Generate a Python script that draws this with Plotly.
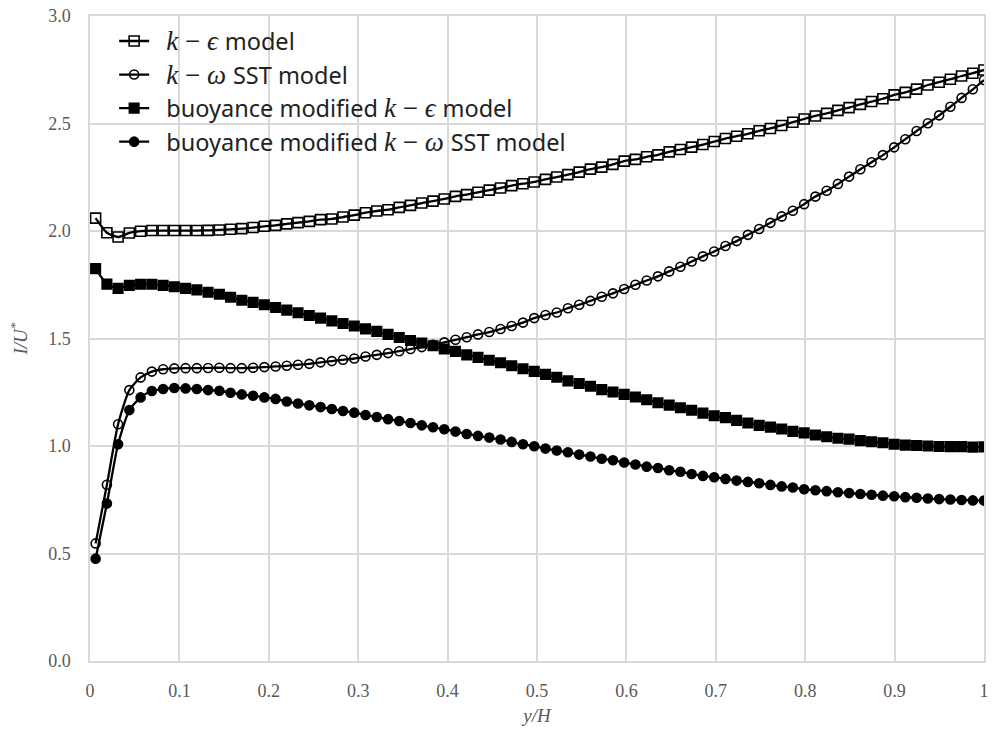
import plotly.graph_objects as go

# sample positions y/H
x_vals = [0.0063, 0.0189, 0.0314, 0.0440, 0.0566, 0.0692, 0.0818, 0.0943, 0.1069, 0.1195,
          0.1321, 0.1447, 0.1572, 0.1698, 0.1824, 0.1950, 0.2076, 0.2201, 0.2327, 0.2453,
          0.2579, 0.2705, 0.2830, 0.2956, 0.3082, 0.3208, 0.3334, 0.3459, 0.3585, 0.3711,
          0.3837, 0.3963, 0.4088, 0.4214, 0.4340, 0.4466, 0.4592, 0.4717, 0.4843, 0.4969,
          0.5095, 0.5221, 0.5346, 0.5472, 0.5598, 0.5724, 0.5850, 0.5975, 0.6101, 0.6227,
          0.6353, 0.6479, 0.6604, 0.6730, 0.6856, 0.6982, 0.7108, 0.7233, 0.7359, 0.7485,
          0.7611, 0.7737, 0.7862, 0.7988, 0.8114, 0.8240, 0.8366, 0.8491, 0.8617, 0.8743,
          0.8869, 0.8995, 0.9120, 0.9246, 0.9372, 0.9498, 0.9624, 0.9749, 0.9875, 1.0000]

k_eps = [2.060, 1.992, 1.972, 1.991, 1.999, 2.002, 2.002, 2.002, 2.002, 2.002,
         2.003, 2.005, 2.008, 2.011, 2.016, 2.022, 2.026, 2.033, 2.039, 2.045,
         2.053, 2.056, 2.065, 2.074, 2.085, 2.093, 2.099, 2.110, 2.119, 2.130,
         2.139, 2.149, 2.161, 2.169, 2.180, 2.190, 2.200, 2.211, 2.220, 2.228,
         2.240, 2.251, 2.262, 2.274, 2.288, 2.297, 2.310, 2.325, 2.333, 2.345,
         2.354, 2.368, 2.379, 2.390, 2.402, 2.416, 2.430, 2.441, 2.452, 2.466,
         2.477, 2.491, 2.506, 2.521, 2.535, 2.547, 2.561, 2.574, 2.589, 2.602,
         2.615, 2.633, 2.645, 2.660, 2.679, 2.692, 2.706, 2.721, 2.734, 2.749]

k_omega = [0.547, 0.820, 1.101, 1.260, 1.319, 1.346, 1.357, 1.361, 1.362, 1.362,
           1.363, 1.364, 1.362, 1.362, 1.364, 1.367, 1.370, 1.373, 1.378, 1.382,
           1.389, 1.395, 1.401, 1.407, 1.416, 1.424, 1.432, 1.441, 1.451, 1.460,
           1.471, 1.482, 1.494, 1.506, 1.519, 1.530, 1.544, 1.558, 1.574, 1.595,
           1.609, 1.621, 1.641, 1.657, 1.675, 1.694, 1.710, 1.730, 1.750, 1.770,
           1.789, 1.812, 1.834, 1.858, 1.882, 1.905, 1.930, 1.953, 1.982, 2.009,
           2.038, 2.068, 2.094, 2.125, 2.160, 2.187, 2.219, 2.253, 2.287, 2.320,
           2.353, 2.389, 2.427, 2.465, 2.501, 2.538, 2.578, 2.619, 2.659, 2.702]

b_k_eps = [1.825, 1.753, 1.733, 1.747, 1.752, 1.752, 1.747, 1.741, 1.733, 1.726,
           1.715, 1.706, 1.692, 1.678, 1.668, 1.657, 1.644, 1.632, 1.620, 1.607,
           1.595, 1.582, 1.570, 1.558, 1.545, 1.533, 1.519, 1.505, 1.491, 1.479,
           1.466, 1.451, 1.440, 1.424, 1.412, 1.399, 1.387, 1.373, 1.359, 1.347,
           1.333, 1.320, 1.303, 1.291, 1.278, 1.262, 1.251, 1.240, 1.228, 1.215,
           1.201, 1.190, 1.178, 1.166, 1.153, 1.141, 1.132, 1.119, 1.107, 1.096,
           1.088, 1.079, 1.068, 1.061, 1.051, 1.043, 1.036, 1.032, 1.025, 1.020,
           1.015, 1.008, 1.004, 1.002, 1.000, 0.998, 0.997, 0.997, 0.995, 0.996]

b_k_omega = [0.476, 0.732, 1.008, 1.167, 1.226, 1.256, 1.265, 1.270, 1.268, 1.265,
             1.260, 1.257, 1.248, 1.240, 1.234, 1.226, 1.219, 1.207, 1.198, 1.189,
             1.181, 1.172, 1.163, 1.155, 1.144, 1.135, 1.125, 1.116, 1.107, 1.096,
             1.087, 1.078, 1.067, 1.056, 1.047, 1.039, 1.030, 1.019, 1.008, 0.999,
             0.988, 0.979, 0.971, 0.960, 0.951, 0.941, 0.934, 0.923, 0.914, 0.904,
             0.898, 0.887, 0.880, 0.870, 0.861, 0.855, 0.847, 0.839, 0.833, 0.827,
             0.819, 0.812, 0.807, 0.799, 0.794, 0.790, 0.785, 0.781, 0.777, 0.773,
             0.769, 0.766, 0.762, 0.759, 0.756, 0.753, 0.751, 0.749, 0.747, 0.746]

x_ticks = [0, 0.1, 0.2, 0.3, 0.4, 0.5, 0.6, 0.7, 0.8, 0.9, 1]
x_tick_text = ["0", "0.1", "0.2", "0.3", "0.4", "0.5", "0.6", "0.7", "0.8", "0.9", "1"]
y_ticks = [0.0, 0.5, 1.0, 1.5, 2.0, 2.5, 3.0]
y_tick_text = ["0.0", "0.5", "1.0", "1.5", "2.0", "2.5", "3.0"]

M = '<span style="font-family:Liberation Serif;font-size:27px">'
E = '</span>'
K = f'{M}<i>k</i>\u00a0−\u00a0{E}'
EPS = f'{M}<i>ϵ</i>\u00a0{E}'
OMG = f'{M}<i>ω</i>\u00a0{E}'
PAD = '\u00a0\u00a0'
names = [
    f"{PAD}{K}{EPS}model",
    f"{PAD}{K}{OMG}SST model",
    f"{PAD}buoyance modified {K}{EPS}model",
    f"{PAD}buoyance modified {K}{OMG}SST model",
]
series = [k_eps, k_omega, b_k_eps, b_k_omega]
symbols = ["square-open", "circle-open", "square", "circle"]
sizes = [10, 9, 9.5, 9]

fig = go.Figure()
for i, (nm, ys, sym, sz) in enumerate(zip(names, series, symbols, sizes)):
    fig.add_trace(go.Scatter(
        x=x_vals, y=ys, name=nm, mode="lines+markers",
        line=dict(color="black", width=2.3, shape="spline", smoothing=0.6),
        marker=dict(symbol=sym, size=sz, color="black",
                    line=dict(color="black", width=1.6)),
    ))

grid = "#d9d9d9"
tickfont = dict(family="Liberation Serif", size=18, color="#595959")

fig.update_layout(
    width=994, height=738,
    margin=dict(l=90, r=5, t=16, b=77),
    paper_bgcolor="white", plot_bgcolor="white",
    showlegend=True,
    legend=dict(
        x=0.027, y=0.995, xanchor="left", yanchor="top",
        font=dict(family="Noto Sans", size=23.5, color="#222222"),
        bgcolor="rgba(0,0,0,0)",
    ),
    xaxis=dict(
        range=[0, 1], tickvals=x_ticks, ticktext=x_tick_text,
        showgrid=True, gridcolor=grid, gridwidth=1.5,
        zeroline=False, showline=True, linecolor=grid, linewidth=1.5, mirror=True,
        ticks="outside", ticklen=13, tickcolor="rgba(0,0,0,0)",
        tickfont=tickfont,
        title=dict(text="y/H", standoff=8,
                   font=dict(family="Liberation Serif", size=19, color="#595959", style="italic")),
    ),
    yaxis=dict(
        range=[0, 3], tickvals=y_ticks, ticktext=y_tick_text,
        showgrid=True, gridcolor=grid, gridwidth=1.5,
        zeroline=False, showline=True, linecolor=grid, linewidth=1.5, mirror=True,
        ticks="outside", ticklen=14, tickcolor="rgba(0,0,0,0)",
        tickfont=tickfont,
        title=dict(text="I/U<sup>*</sup>", standoff=16,
                   font=dict(family="Liberation Serif", size=19, color="#595959", style="italic")),
    ),
)

fig.write_html("out.html")
